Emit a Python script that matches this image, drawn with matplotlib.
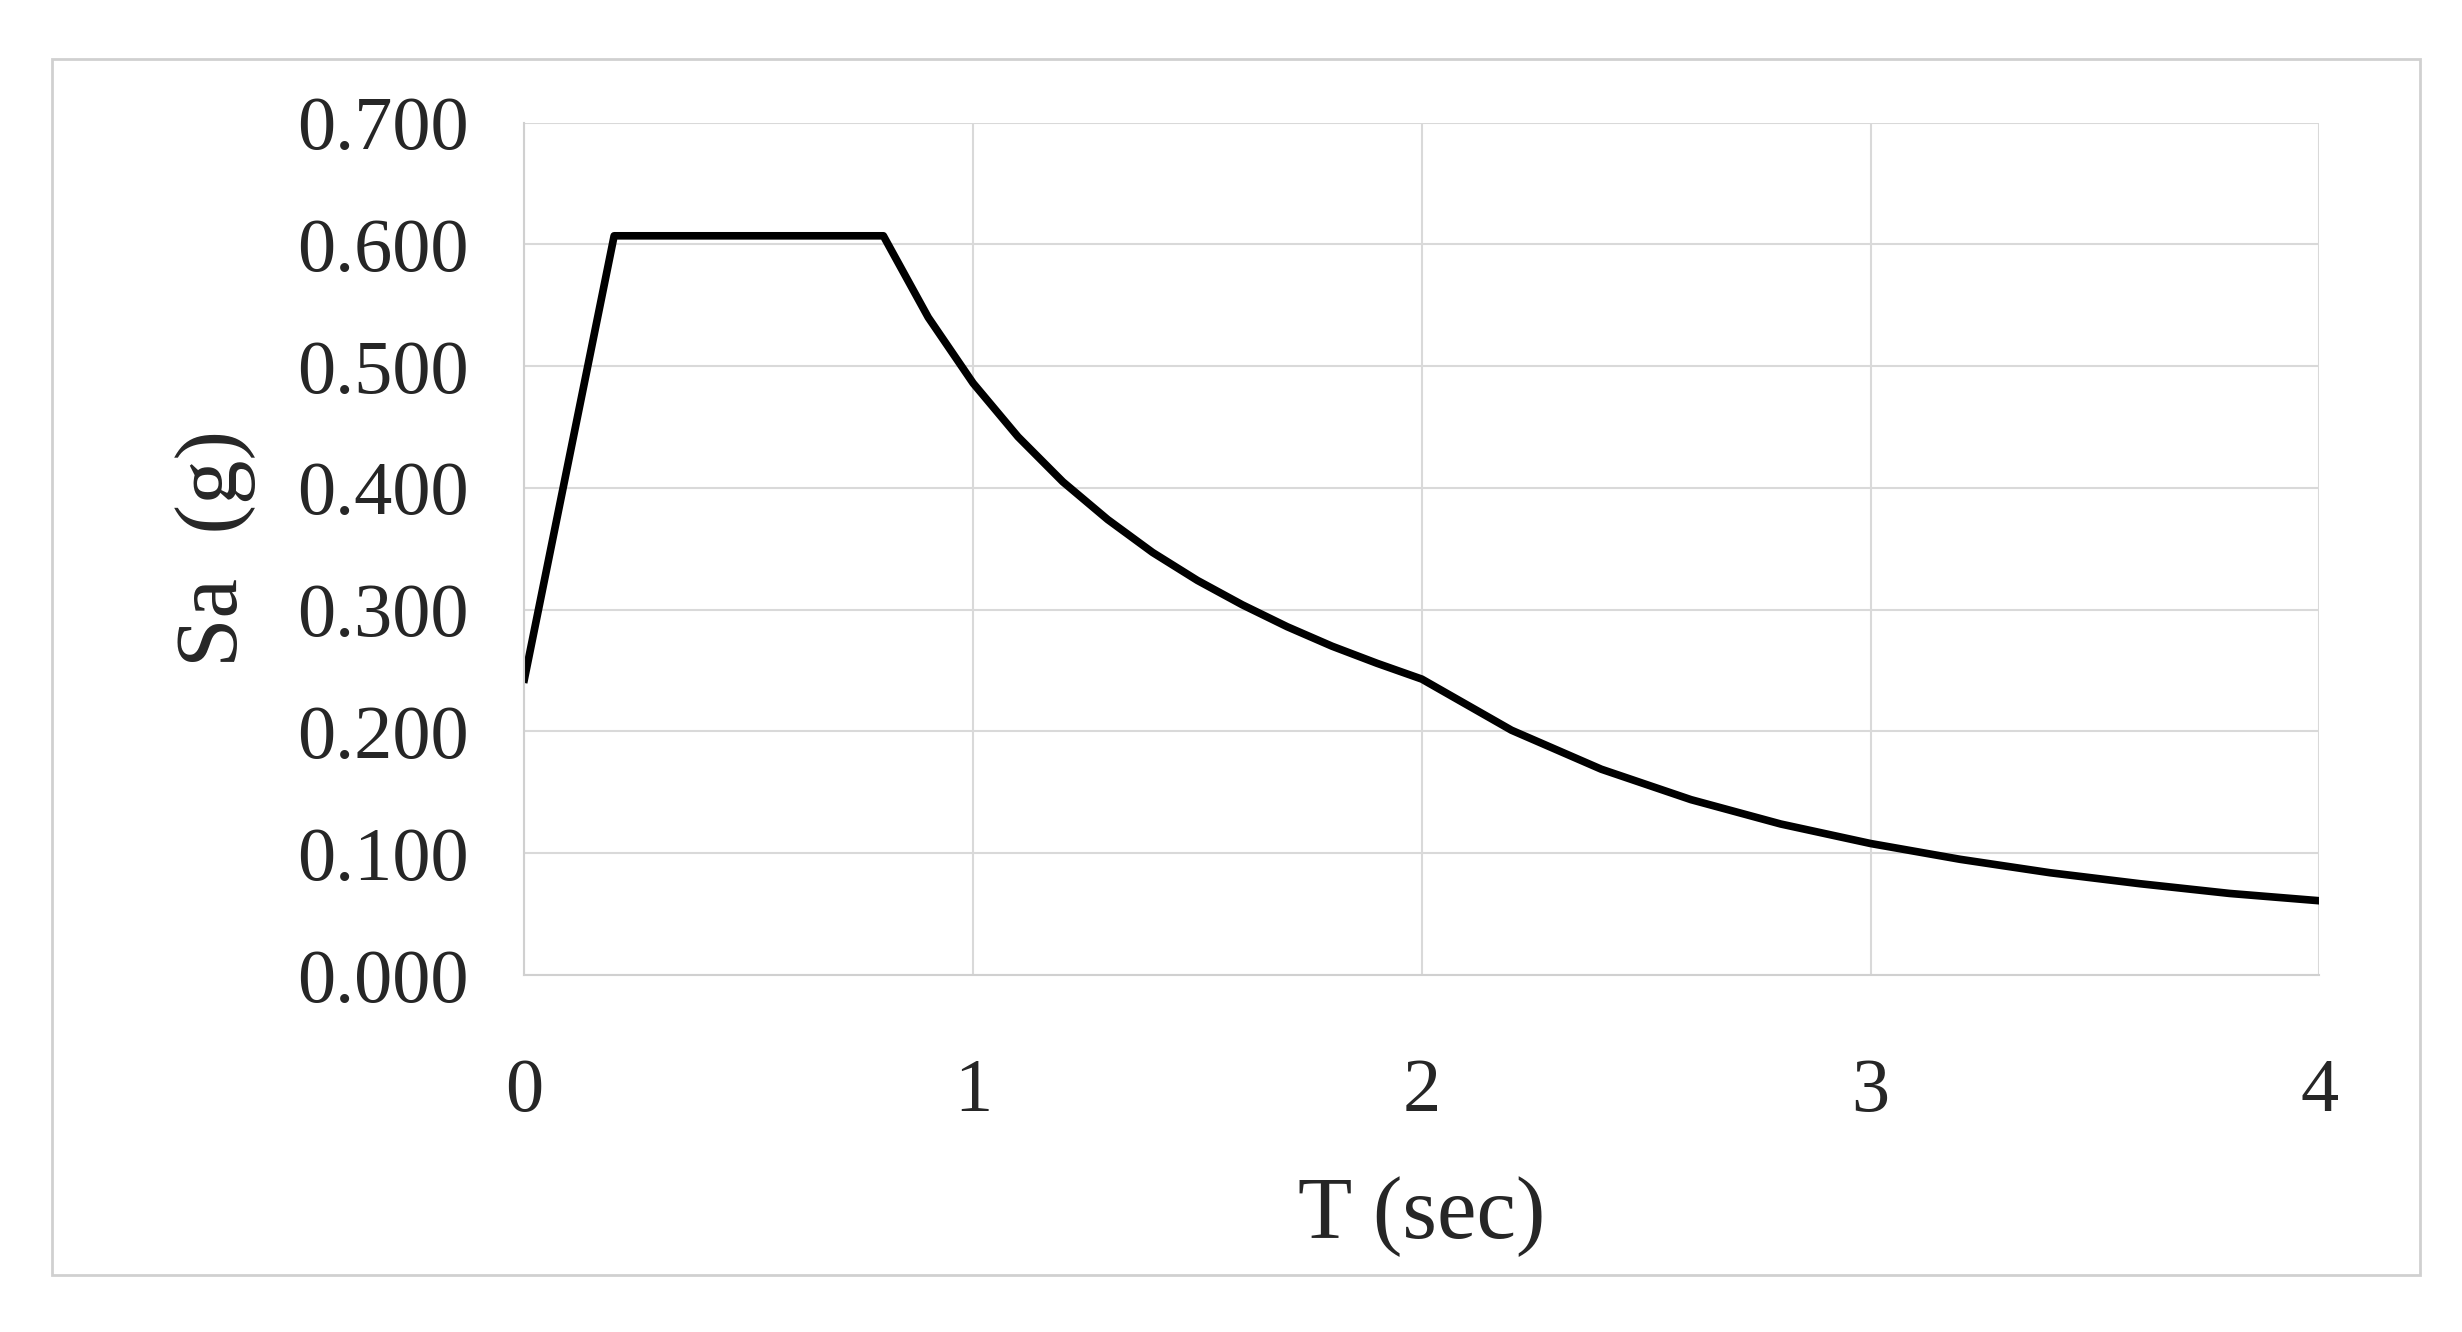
import matplotlib
matplotlib.use('Agg')
import matplotlib.pyplot as plt
from matplotlib.patches import Rectangle

# response spectrum
period = [0, 0.2, 0.8, 0.9, 1.0, 1.1, 1.2, 1.3, 1.4, 1.5, 1.6, 1.7, 1.8, 1.9, 2.0,
          2.2, 2.4, 2.6, 2.8, 3.0, 3.2, 3.4, 3.6, 3.8, 4.0]
sa = [0.243, 0.607, 0.607, 0.540, 0.486, 0.442, 0.405, 0.374, 0.347, 0.324, 0.304,
      0.286, 0.270, 0.256, 0.243, 0.201, 0.169, 0.144, 0.124, 0.108, 0.095, 0.084,
      0.075, 0.067, 0.061]
xticks = [0, 1, 2, 3, 4]
yticks = [0.0, 0.1, 0.2, 0.3, 0.4, 0.5, 0.6, 0.7]

plt.rcParams['font.family'] = ['Liberation Serif', 'DejaVu Serif']

fig = plt.figure(figsize=(24.62, 13.32), dpi=100)
fig.patches.append(Rectangle((0.021, 0.043), 0.962, 0.913, transform=fig.transFigure,
                             fill=False, edgecolor='#d0d0d0', linewidth=2))
ax = fig.add_axes([0.213, 0.268, 0.729, 0.640])
ax.plot(period, sa, color='black', linewidth=5.5)
ax.set_xlim(0, 4)
ax.set_ylim(0, 0.7)
ax.set_xticks(xticks)
ax.set_yticks(yticks)
ax.set_yticklabels(['%.3f' % v for v in yticks])
ax.grid(True, color='#d9d9d9', linewidth=1.5)
for s in ['top', 'right']:
    ax.spines[s].set_visible(False)
for s in ['left', 'bottom']:
    ax.spines[s].set_color('#d0d0d0')
    ax.spines[s].set_linewidth(1.5)
ax.tick_params(length=0, labelsize=55, colors='#262626', pad=40)
ax.tick_params(axis='x', pad=60)
ax.set_xlabel('T (sec)', fontsize=64, color='#262626', labelpad=35)
ax.set_ylabel('Sa  (g)', fontsize=64, color='#262626', labelpad=30)

fig.savefig('out.png', dpi=100)
